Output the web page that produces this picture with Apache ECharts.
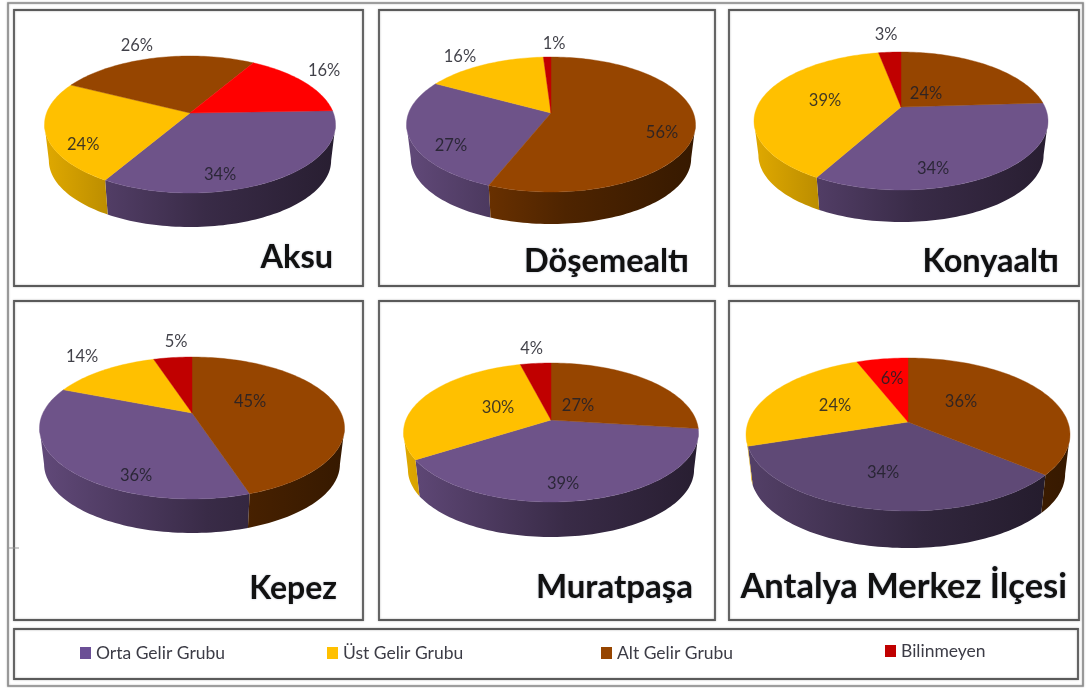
<!DOCTYPE html>
<html><head><meta charset="utf-8">
<style>html,body{margin:0;padding:0;background:#fff}#c{width:1086px;height:688px;filter:blur(0.5px)}</style>
<script src="https://cdn.jsdelivr.net/npm/echarts@6/dist/echarts.min.js"></script>
</head><body><div id="c"></div>
<script>
// ---- data: percentage per district (labels as printed in the picture)
const districts = ['Aksu','Döşemealtı','Konyaaltı','Kepez','Muratpaşa','Antalya Merkez İlçesi'];
const groups = ['Orta Gelir Grubu','Üst Gelir Grubu','Alt Gelir Grubu','Bilinmeyen'];
const ortaGelir = [34,27,34,36,39,34];
const ustGelir  = [24,16,39,14,30,24];
const altGelir  = [26,56,24,45,27,36];
const bilinmeyen= [16, 1, 3, 5, 4, 6];
const values = [ortaGelir,ustGelir,altGelir,bilinmeyen];

// ---- layout (per pie): apex, half width, back/front reach, wall depth, start angle, slice order
const pies = [
 {ax:190,ay:113,hw:145.5,back:57,front:80,depth:34,start:-2, order:[0,1,2,3]},
 {ax:551,ay:113,hw:144.5,back:56,front:79,depth:32,start:-90,order:[2,0,1,3]},
 {ax:901,ay:107,hw:147,  back:55,front:83,depth:32,start:-90,order:[2,0,1,3]},
 {ax:192,ay:413,hw:152.5,back:56,front:86,depth:34,start:-90,order:[2,0,1,3]},
 {ax:551,ay:420,hw:147.5,back:57,front:82,depth:35,start:-90,order:[2,0,1,3]},
 {ax:908,ay:422,hw:162,  back:64,front:89,depth:37,start:-90,order:[2,0,1,3]}
];
// label placement along the slice: [radius, angle nudge] by group
const labelPlace = [
 [[.825,18.1],[.82,-16.4],[1.29,-3.8],[1.261,-3.2]],
 [[.796,-15.8],[1.249,-4.4],[.796,10.6],[1.283,3]],
 [[.809,19],[.546,.8],[.273,-1.6],[1.403,0]],
 [[.837,-24.8],[1.34,1.4],[.437,-13.6],[1.35,3.2]],
 [[.816,7.6],[.42,4.5],[.29,-6.8],[1.315,0]],
 [[.632,2],[.523,0],[.446,-13.7],[.646,1]]
];
const baseColors = ['#6e5389','#ffc000','#964500','#c00000'];
const pieColors = [
 ['#6e5389','#ffc000','#964500','#ff0000'],
 baseColors, baseColors, baseColors, baseColors,
 ['#5f4976','#ffc000','#964500','#ff0000']
];
const legendColors = ['#6b4f96','#ffc000','#964500','#c00000'];
const titlePlace = [[333,258],[689,262],[1059,262],[337,589],[693,587],[1067,587]];
const titleSize = [32.5,32.5,32.5,32,33,34.5];
const legendLeft = [80,327,601,885];
const legendTop = [644,644,644,642];

function geom(p){
  const k=(p.front-p.back)/(p.front+p.back);
  return {k,B:p.front*(1-k),A:p.hw*Math.sqrt(1-k*k)};
}
function proj(p,g,deg,r){
  const t=deg*Math.PI/180,u=r*Math.cos(t),v=r*Math.sin(t),w=1-g.k*v;
  return [p.ax+g.A*u/w,p.ay+g.B*v/w];
}
function arc(p,g,a,b,r){
  const n=Math.max(2,Math.ceil(Math.abs(b-a)/1.5)),pts=[];
  for(let i=0;i<=n;i++)pts.push(proj(p,g,a+(b-a)*i/n,r));
  return pts;
}
function shade(hex,f){
  const n=parseInt(hex.slice(1),16);
  return 'rgb('+[(n>>16)&255,(n>>8)&255,n&255].map(c=>Math.round(c*f)).join(',')+')';
}
function renderSlice(gi,params,api){
  const d=params.dataIndex,p=pies[d],g=geom(p),val=api.value(0);
  let a=p.start;
  for(const o of p.order){ if(o===gi)break; a+=values[o][d]*3.6; }
  const b=a+val*3.6,color=pieColors[d][gi],kids=[];
  // side wall: visible part of rim only
  const t0=Math.asin(g.k)*180/Math.PI,t1=180-t0,s=0.97,dd=p.depth+p.front*(1-s);
  for(const n of [-360,0,360]){
    const lo=Math.max(a,t0+n),hi=Math.min(b,t1+n);
    if(hi>lo){
      const top=arc(p,g,lo,hi,1),bot=top.map(q=>[p.ax+(q[0]-p.ax)*s,p.ay+(q[1]-p.ay)*s+dd]).reverse();
      kids.push({type:'polygon',z2:1,shape:{points:top.concat(bot)},
        style:{fill:new echarts.graphic.LinearGradient(p.ax-p.hw,0,p.ax+p.hw,0,
          [{offset:0,color:shade(color,.88)},{offset:.55,color:shade(color,.52)},{offset:1,color:shade(color,.36)}],true),
          stroke:null}});
    }
  }
  // top face
  kids.push({type:'polygon',z2:2,shape:{points:[[p.ax,p.ay]].concat(arc(p,g,a,b,1))},
    style:{fill:color,stroke:color,lineWidth:0.4}});
  // label
  const lp=labelPlace[d][gi],m=proj(p,g,(a+b)/2+lp[1],lp[0]);
  kids.push({type:'text',z2:3,style:{text:val+'%',x:m[0],y:m[1],align:'center',verticalAlign:'middle',
    font:'16.5px Lato, Carlito, sans-serif',fill:'rgba(30,30,40,0.85)'}});
  return {type:'group',children:kids};
}
const frame=(x,y,w,h,c,lw)=>({type:'rect',shape:{x,y,width:w,height:h},
  style:{fill:null,stroke:c,lineWidth:lw,shadowBlur:2,shadowColor:'rgba(0,0,0,0.35)'},z:-1,silent:true});
const panels=[[14,10,349,276],[379,10,336,276],[729,10,350,276],[14,301,349,319],[379,301,336,319],[729,301,350,319],[14,629,1064,50]];
const chart=echarts.init(document.getElementById('c'),null,{renderer:'canvas'});
chart.setOption({
  animation:false,
  backgroundColor:'#fff',
  title:districts.map((t,i)=>({text:t,left:titlePlace[i][0],top:titlePlace[i][1],textAlign:'right',textVerticalAlign:'middle',
    padding:0,textStyle:{fontFamily:'Lato, Carlito, sans-serif',fontWeight:'bold',fontSize:titleSize[i],color:'#111',
    textShadowColor:'rgba(20,40,90,0.35)',textShadowBlur:2}})),
  legend:groups.map((n,i)=>({data:[n],left:legendLeft[i],top:legendTop[i],orient:'horizontal',padding:0,
    itemWidth:11,itemHeight:12,selectedMode:false,icon:'rect',
    textStyle:{fontFamily:'Lato, Carlito, sans-serif',fontSize:17.5,color:'#3c3c46'}})),
  graphic:{elements:[
    frame(8,3,1075,683,'#8c8c8c',1.6),
    ...panels.map(q=>frame(q[0],q[1],q[2],q[3],'#5a5a5a',1.8)),
    {type:'line',shape:{x1:9,y1:548,x2:19,y2:548},style:{stroke:'#999',lineWidth:1},silent:true}
  ]},
  series:groups.map((n,gi)=>({
    type:'custom',name:n,coordinateSystem:'none',silent:true,
    itemStyle:{color:legendColors[gi]},
    data:values[gi].map(v=>[v]),
    renderItem:(params,api)=>renderSlice(gi,params,api)
  }))
});
</script></body></html>
